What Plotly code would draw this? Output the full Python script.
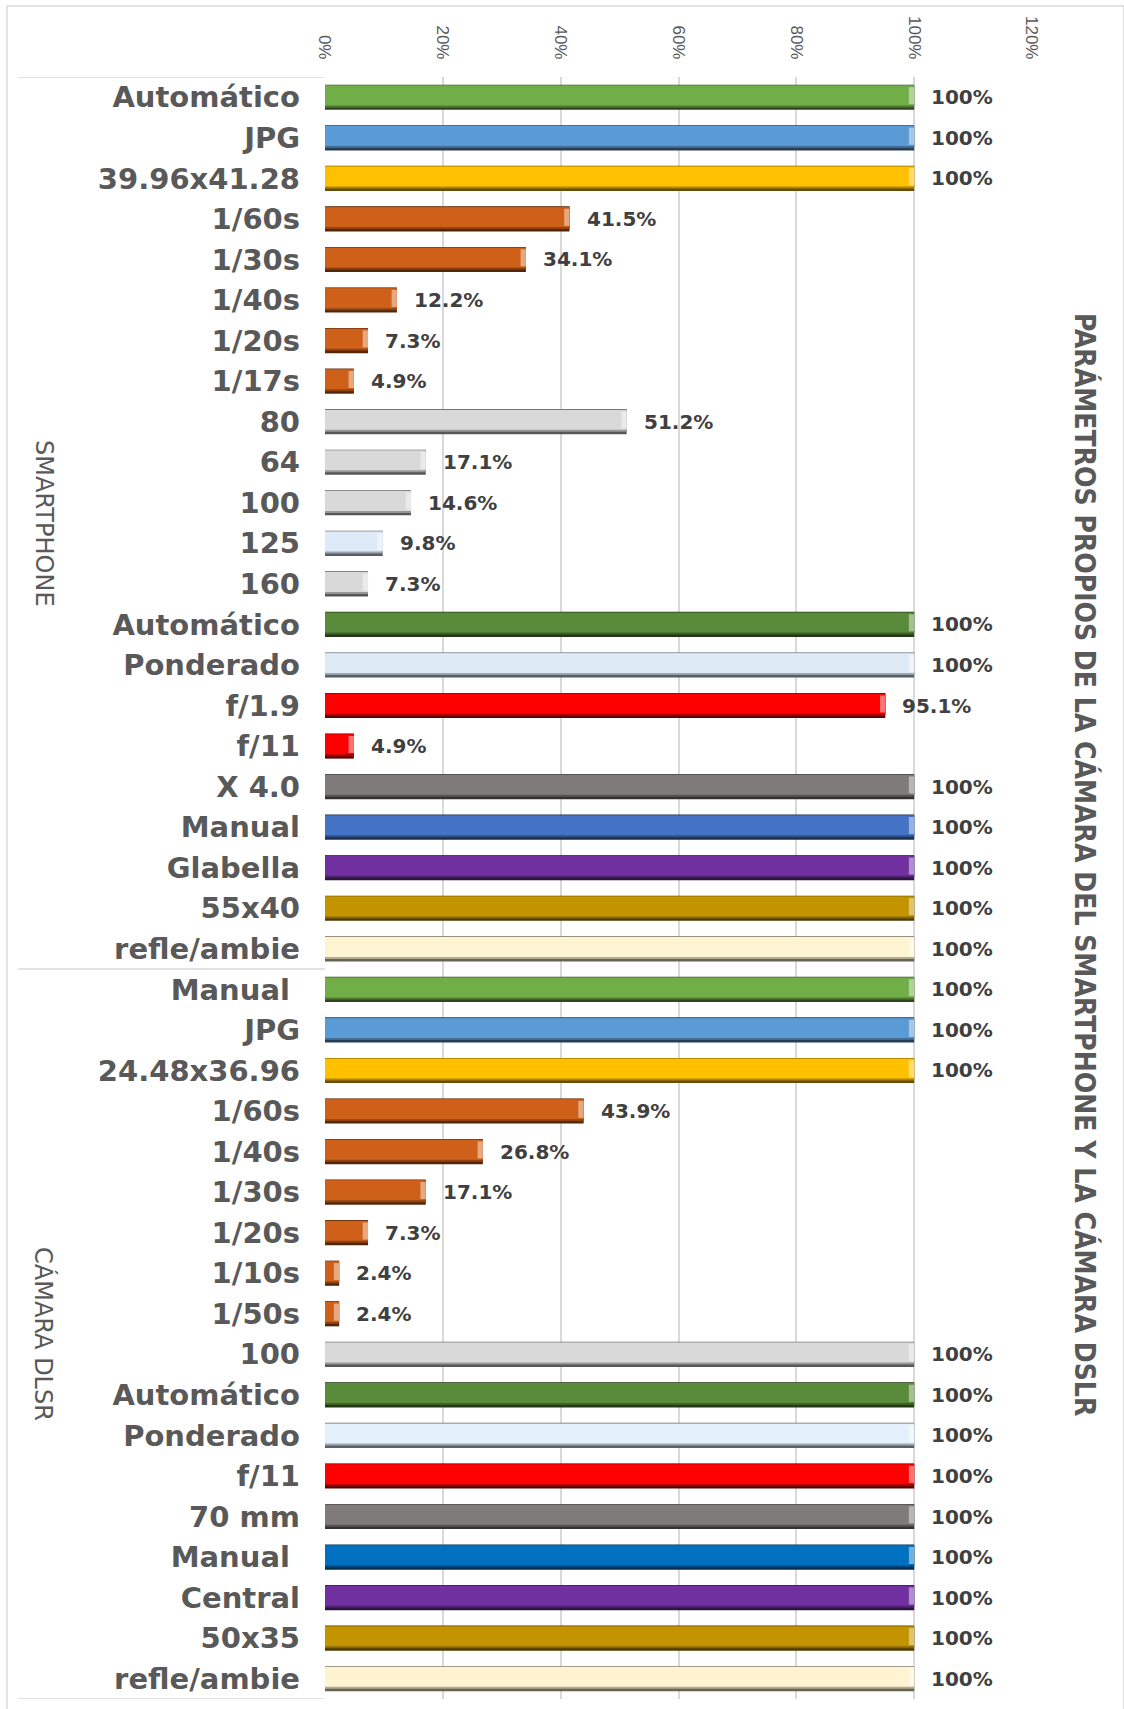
import plotly.graph_objects as go

# ---- data -------------------------------------------------------------
smartphone_labels = [
    "Automático", "JPG", "39.96x41.28", "1/60s", "1/30s", "1/40s", "1/20s",
    "1/17s", "80", "64", "100", "125", "160", "Automático", "Ponderado",
    "f/1.9", "f/11", "X 4.0", "Manual", "Glabella", "55x40", "refle/ambie",
]
smartphone_values = [
    100, 100, 100, 41.5, 34.1, 12.2, 7.3, 4.9, 51.2, 17.1, 14.6, 9.8, 7.3,
    100, 100, 95.1, 4.9, 100, 100, 100, 100, 100,
]
dslr_labels = [
    "Manual\u00a0", "JPG", "24.48x36.96", "1/60s", "1/40s", "1/30s", "1/20s",
    "1/10s", "1/50s", "100", "Automático", "Ponderado", "f/11", "70 mm",
    "Manual\u00a0", "Central", "50x35", "refle/ambie",
]
dslr_values = [
    100, 100, 100, 43.9, 26.8, 17.1, 7.3, 2.4, 2.4, 100, 100, 100, 100, 100,
    100, 100, 100, 100,
]
group_names = ["SMARTPHONE", "CÁMARA DLSR"]
x_ticks = [0, 20, 40, 60, 80, 100, 120]
title_text = "PARÁMETROS PROPIOS DE LA CÁMARA DEL SMARTPHONE Y LA CÁMARA DSLR"

# ---- styling ----------------------------------------------------------
ORANGE = "#CF601A"
smartphone_colors = (
    ["#72AE48", "#5B9BD5", "#FFC000"] + [ORANGE] * 5
    + ["#D9D9D9", "#D9D9D9", "#D9D9D9", "#DEEAF8", "#D9D9D9"]
    + ["#5A8B3A", "#DEEBF7", "#FF0000", "#FF0000", "#7F7B7B", "#4472C4",
       "#7030A0", "#C39400", "#FFF4D2"]
)
dslr_colors = (
    ["#72AE48", "#5B9BD5", "#FFC000"] + [ORANGE] * 6
    + ["#D9D9D9", "#5A8B3A", "#E4F0FB", "#FF0000", "#7F7B7B", "#0070C0",
       "#7030A0", "#C39400", "#FFF4D2"]
)

TEXT = "#595959"
GRID = "#D9D9D9"


def mix(hex_color, target, amount):
    h = hex_color.lstrip("#")
    rgb = [int(h[i:i + 2], 16) for i in (0, 2, 4)]
    out = [round(c + (target - c) * amount) for c in rgb]
    return "#{:02X}{:02X}{:02X}".format(*out)


labels = smartphone_labels + dslr_labels
values = smartphone_values + dslr_values
colors = smartphone_colors + dslr_colors
positions = list(range(len(labels)))

rim_colors = [mix(c, 0, 0.6) for c in colors]
shade_colors = [mix(c, 0, 0.3) for c in colors]
cap_colors = [mix(c, 255, 0.45) for c in colors]

CAP = 0.9  # width of the bevelled end, in axis units

fig = go.Figure()
# (width, offset, colours) for the stacked layers that give the bevelled look
layers = [
    (0.62, -0.31, rim_colors),     # dark outer rim
    (0.55, -0.30, shade_colors),   # shaded lower band
    (0.49, -0.29, colors),         # face of the bar
]
for w, off, cols in layers:
    fig.add_trace(go.Bar(
        y=positions, x=values, orientation="h",
        width=w, offset=off,
        marker=dict(color=cols, line=dict(width=0)),
        hoverinfo="skip",
    ))
# light end bevel
fig.add_trace(go.Bar(
    y=positions, x=[CAP] * len(values), base=[v - CAP for v in values],
    orientation="h", width=0.42, offset=-0.25,
    marker=dict(color=cap_colors, line=dict(width=0)),
    hoverinfo="skip",
))

# value labels beside each bar
annotations = []
for pos, v in zip(positions, values):
    txt = "100%" if v == 100 else f"{v:.1f}%"
    annotations.append(dict(
        x=v, y=pos, xref="x", yref="y", text=txt, showarrow=False,
        xanchor="left", yanchor="middle", xshift=15,
        font=dict(family="DejaVu Sans", size=20, color="#404040", weight="bold"),
    ))

# group labels on the category axis
n_smart = len(smartphone_labels)
n_total = len(labels)
group_centres = [(-0.5 + n_smart - 0.5) / 2, (n_smart - 0.5 + n_total - 0.5) / 2]
for name, yc in zip(group_names, group_centres):
    annotations.append(dict(
        x=-0.3975, y=yc, xref="paper", yref="y", text=name, showarrow=False,
        textangle=90, xanchor="center", yanchor="middle",
        font=dict(family="DejaVu Sans", size=24, color=TEXT),
    ))

# chart title, running down the right side
annotations.append(dict(
    x=1.075, y=0.5148, xref="paper", yref="paper", text=title_text,
    showarrow=False, textangle=90, xanchor="center", yanchor="middle",
    font=dict(family="DejaVu Sans Condensed, Liberation Sans Narrow, DejaVu Sans",
              size=28, color=TEXT, weight="bold"),
))

shapes = []
# outer chart frame
shapes.append(dict(type="rect", xref="paper", yref="paper",
                   x0=-0.4498, x1=1.13, y0=-0.02, y1=1.0438,
                   line=dict(color=GRID, width=1.5), layer="below"))
# category-axis separators
for yb in (-0.5, n_smart - 0.5, n_total - 0.5):
    shapes.append(dict(type="line", xref="paper", yref="y",
                       x0=-0.4342, x1=0, y0=yb, y1=yb,
                       line=dict(color=GRID, width=1.5)))

fig.update_layout(
    width=1124, height=1709,
    margin=dict(l=325, r=92, t=77, b=10),
    barmode="overlay",
    showlegend=False,
    plot_bgcolor="white",
    paper_bgcolor="white",
    annotations=annotations,
    shapes=shapes,
    xaxis=dict(
        range=[0, 120], tickvals=x_ticks, ticktext=[f"{t}%" for t in x_ticks],
        side="top", tickangle=90, showgrid=True, gridcolor=GRID, gridwidth=1.5,
        zeroline=False, showline=False, ticks="", ticklabelstandoff=14,
        tickfont=dict(family="Liberation Sans", size=17, color=TEXT),
    ),
    yaxis=dict(
        range=[n_total - 0.5, -0.5], tickvals=positions, ticktext=labels,
        showgrid=False, zeroline=False, showline=False, ticks="",
        ticklabelstandoff=24,
        tickfont=dict(family="DejaVu Sans", size=29, color=TEXT, weight="bold"),
    ),
)

fig.write_html("out.html")
